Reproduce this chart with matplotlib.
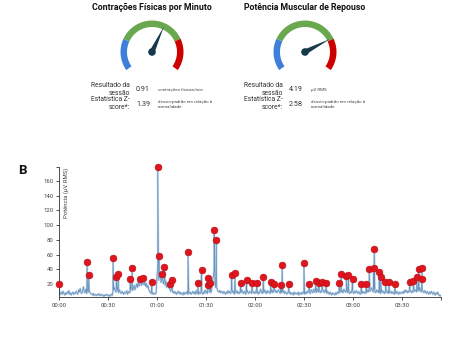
import numpy as np
import matplotlib
matplotlib.use("Agg")
import matplotlib.pyplot as plt
from matplotlib.patches import Wedge, Polygon, Circle
from matplotlib.ticker import FixedLocator

plt.rcParams['font.family'] = ['Roboto', 'DejaVu Sans']

# ---------------- data ----------------
gauge_titles = ["Contrações Físicas por Minuto", "Potência Muscular de Repouso"]
gauge_results = ["0.91", "4.19"]
gauge_units = ["contrações físicas/min", "µV RMS"]
gauge_zscores = ["1.39", "2.58"]
gauge_needle_frac = [0.60, 0.75]

# baseline signal, one value every 0.5 min from 00:00 to 03:54
base_values = [
    8, 5, 7, 9, 6, 10, 7, 5, 8, 6, 9, 7, 11, 6, 8, 5, 7, 9, 6, 8,
    7, 10, 8, 6, 12, 9, 14, 8, 7, 11, 16, 9, 8, 13, 7, 10, 9, 12, 8, 7,
    6, 5, 7, 4, 6, 5, 4, 6, 5, 7, 4, 5, 6, 4, 5, 3, 5, 4, 6, 5,
    4, 5, 3, 5, 6, 4, 8, 12, 15, 10, 9, 14, 11, 8, 12, 9, 7, 10, 8, 6,
    9, 7, 8, 11, 6, 9, 10, 8, 12, 15, 11, 14, 18, 12, 16, 20, 15, 22, 17, 19,
    24, 18, 21, 26, 19, 23, 17, 21, 15, 18, 12, 10, 8, 7, 9, 6, 8, 7, 6, 8,
    30, 45, 25, 28, 35, 22, 30, 26, 20, 28, 18, 24, 15, 20, 16, 14, 12, 10, 15, 9,
    8, 10, 7, 9, 6, 8, 10, 7, 9, 6, 8, 7, 5, 9, 6, 8, 7, 10, 6, 8,
    7, 9, 6, 8, 10, 7, 9, 6, 11, 7, 8, 6, 9, 7, 10, 8, 6, 9, 7, 12,
    8, 10, 7, 14, 9, 12, 8, 11, 25, 30, 40, 22, 15, 18, 12, 10, 9, 11, 8, 10,
    9, 7, 10, 8, 6, 9, 7, 11, 8, 10, 7, 9, 12, 8, 10, 6, 9, 8, 11, 7,
    9, 7, 10, 8, 12, 9, 7, 10, 8, 6, 9, 11, 7, 8, 10, 9, 7, 12, 8, 9,
    7, 10, 8, 11, 6, 9, 8, 13, 9, 7, 10, 8, 12, 9, 7, 11, 8, 10, 9, 7,
    9, 12, 8, 10, 14, 9, 11, 8, 10, 12, 9, 7, 10, 8, 9, 11, 7, 10, 8, 6,
    8, 10, 7, 9, 6, 8, 7, 5, 9, 6, 8, 7, 6, 9, 5, 8, 7, 6, 9, 7,
    8, 6, 9, 7, 10, 8, 11, 9, 7, 12, 10, 8, 13, 9, 11, 8, 14, 10, 9, 12,
    8, 11, 9, 13, 10, 8, 12, 9, 7, 10, 8, 6, 9, 7, 5, 8, 6, 7, 5, 8,
    6, 9, 7, 10, 8, 12, 9, 11, 8, 13, 10, 9, 12, 8, 11, 9, 7, 10, 8, 12,
    9, 7, 10, 8, 11, 9, 7, 10, 8, 6, 9, 7, 10, 8, 9, 7, 11, 8, 12, 9,
    14, 10, 12, 15, 11, 9, 13, 10, 8, 12, 9, 11, 8, 10, 7, 9, 11, 8, 10, 7,
    9, 11, 8, 10, 7, 9, 8, 10, 7, 9, 8, 6, 9, 7, 10, 8, 6, 9, 7, 8,
    9, 7, 10, 8, 12, 9, 11, 8, 10, 9, 12, 10, 8, 11, 9, 13, 10, 12, 9, 11,
    13, 10, 15, 11, 9, 12, 10, 8, 11, 9, 7, 10, 8, 6, 9, 7, 10, 8, 6, 9,
    7, 5, 8, 6, 9, 6, 4, 5, 3,
]
base_step_min = 0.5

# detected peaks (minutes, µV RMS)
peak_times = [0.0, 17.2, 18.2, 33.1, 35.2, 36.4, 43.6, 44.8, 49.7, 51.5, 56.8,
              60.5, 61.4, 63.4, 64.6, 67.7, 69.3, 79.0, 85.0, 87.3, 91.1, 91.5,
              92.5, 95.0, 96.4, 105.7, 107.8, 111.2, 114.9, 118.2, 121.0, 125.1,
              129.6, 131.6, 135.9, 136.7, 140.8, 150.0, 153.3, 157.3, 159.0,
              161.4, 163.5, 171.6, 172.9, 176.1, 177.3, 179.8, 185.1, 188.2,
              190.0, 192.7, 193.1, 196.2, 197.0, 200.0, 202.0, 205.7, 214.9,
              217.0, 219.2, 220.4, 222.2, 222.4]
peak_values = [19.5, 50.4, 31.8, 55.3, 29.5, 34.0, 26.3, 41.3, 27.2, 28.0, 23.2,
               179.5, 58.0, 34.0, 43.1, 19.5, 25.4, 64.0, 21.8, 39.0, 19.0, 28.6,
               21.8, 93.4, 79.8, 32.2, 34.5, 20.9, 25.0, 20.9, 21.8, 30.0,
               22.3, 19.5, 18.2, 46.3, 19.5, 48.1, 19.5, 24.5, 21.8,
               22.7, 20.9, 20.9, 33.6, 30.9, 32.7, 26.8, 20.0, 20.0,
               40.4, 41.7, 68.0, 36.8, 30.0, 23.2, 22.3, 20.0, 23.2,
               23.6, 30.0, 40.8, 27.2, 42.2]

x_tick_minutes = [0, 30, 60, 90, 120, 150, 180, 210]
x_tick_labels = ["00:00", "00:30", "01:00", "01:30", "02:00", "02:30", "03:00", "03:30"]
y_ticks = [20, 40, 60, 80, 100, 120, 140, 160]

# ---------------- figure ----------------
W, H = 451, 338
fig = plt.figure(figsize=(W / 100, H / 100), dpi=100)
fig.patch.set_facecolor("white")

# overlay axes in pixel units (y up) for the gauges
ov = fig.add_axes([0, 0, 1, 1])
ov.set_xlim(0, W)
ov.set_ylim(0, H)
ov.axis("off")

def py(y):
    return H - y

gauge_cx = [152, 305]
gauge_cy = 52
r_out = 31.5
arc_w = 6.5
segments = [(155, 215, "#3f7fd9"), (25, 155, "#6aa84f"), (-35, 25, "#cc0000")]

for i in range(2):
    cx = gauge_cx[i]
    cy = py(gauge_cy)
    ov.text(cx, py(7), gauge_titles[i], ha="center", va="center",
            fontsize=6.3, fontweight="bold", color="#111111")
    for t1, t2, c in segments:
        ov.add_patch(Wedge((cx, cy), r_out, t1, t2, width=arc_w,
                           facecolor=c, edgecolor="none"))
    ang = np.deg2rad(215 - 250 * gauge_needle_frac[i])
    L = 28
    tip = (cx + L * np.cos(ang), cy + L * np.sin(ang))
    perp = ang + np.pi / 2
    bw = 2.6
    b1 = (cx + bw * np.cos(perp), cy + bw * np.sin(perp))
    b2 = (cx - bw * np.cos(perp), cy - bw * np.sin(perp))
    ov.add_patch(Polygon([b1, tip, b2], closed=True, facecolor="#163a4a",
                         edgecolor="none"))
    ov.add_patch(Circle((cx, cy), 3.8, facecolor="#163a4a", edgecolor="none"))

    lab_x = cx - 22
    val_x = cx - 16
    unit_x = cx + 6
    ov.text(lab_x, py(89.5), "Resultado da\nsessão", ha="right", va="center",
            fontsize=4.9, color="#333333", linespacing=1.15)
    ov.text(val_x, py(89.5), gauge_results[i], ha="left", va="center",
            fontsize=5.2, color="#333333")
    ov.text(unit_x, py(90), gauge_units[i], ha="left", va="center",
            fontsize=3.2, color="#444444")
    ov.text(lab_x, py(103.5), "Estatística Z-\nscore*:", ha="right", va="center",
            fontsize=4.9, color="#333333", linespacing=1.15)
    ov.text(val_x, py(104.5), gauge_zscores[i], ha="left", va="center",
            fontsize=5.2, color="#333333")
    ov.text(unit_x, py(104.5), "desvio-padrão em relação à\nnormalidade",
            ha="left", va="center", fontsize=3.2, color="#444444",
            linespacing=1.3)

ov.text(18, py(170), "B", ha="left", va="center", fontsize=9.5,
        fontweight="bold", color="#111111")

# ---------------- time series ----------------
x0, x1 = 59, 441
y_top, y_bot = 167, 297
ax = fig.add_axes([x0 / W, (H - y_bot) / H, (x1 - x0) / W, (y_bot - y_top) / H])
ax.set_facecolor("none")

base_t = np.arange(len(base_values)) * base_step_min
t_all = np.concatenate([base_t, np.array(peak_times)])
v_all = np.concatenate([np.array(base_values, float), np.array(peak_values, float)])
order = np.argsort(t_all, kind="stable")
t_all = t_all[order]
v_all = v_all[order]

t_end = base_t[-1]
ymin, ymax = 2.3, 179
ax.plot(t_all, v_all, color="#c3d6e8", lw=1.4, solid_joinstyle="round")
ax.plot(t_all, v_all, color="#6592bd", lw=0.5)
ax.scatter(peak_times, peak_values, s=24, color="#e0141c",
           edgecolors="#b30f15", linewidths=0.4, zorder=5, clip_on=False)

ax.set_xlim(0, t_end)
ax.set_ylim(ymin, ymax)
ax.set_xticks(x_tick_minutes)
ax.set_xticklabels(x_tick_labels)
ax.set_yticks(y_ticks)
ax.xaxis.set_minor_locator(FixedLocator([t_end]))
ax.yaxis.set_minor_locator(FixedLocator([ymax]))
ax.tick_params(axis="both", which="both", direction="out", length=2.5,
               width=0.6, color="#333333", labelsize=4.3, labelcolor="#444444",
               pad=1.5)
for s in ["top", "right"]:
    ax.spines[s].set_visible(False)
for s in ["left", "bottom"]:
    ax.spines[s].set_color("#333333")
    ax.spines[s].set_linewidth(0.6)

ax.text(0.012, 0.995, "Potência (µV RMS)", transform=ax.transAxes,
        rotation=90, ha="left", va="top", fontsize=4.3, color="#444444")

fig.savefig("out.png", dpi=100, facecolor="white")
